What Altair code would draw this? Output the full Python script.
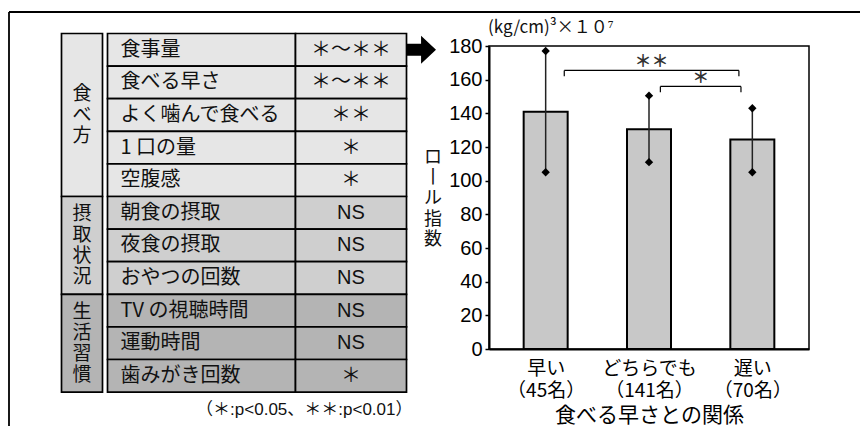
import json
import altair as alt
import pandas as pd

# ---------------- data ----------------
categories = ["早い", "どちらでも", "遅い"]
counts = [45, 141, 70]
means = [141, 130.5, 124.5]
upper = [177, 150.5, 143]
lower = [105, 111, 105]

bracket_labels = ["＊＊", "＊"]
bracket_from = [0.68, 1.61]
bracket_to = [2.37, 2.39]
bracket_level = [165.5, 156]
bracket_foot = [162, 152.5]

groups = ["食べ方", "摂取状況", "生活習慣"]
group_sizes = [5, 3, 3]
items = ["食事量", "食べる早さ", "よく噛んで食べる", "1 口の量", "空腹感",
         "朝食の摂取", "夜食の摂取", "おやつの回数",
         "TV の視聴時間", "運動時間", "歯みがき回数"]
significance = ["＊〜＊＊", "＊〜＊＊", "＊＊", "＊", "＊",
                "NS", "NS", "NS",
                "NS", "NS", "＊"]
footnote = "（＊:p<0.05、＊＊:p<0.01）"
unit_label = "(kg/cm)³×１０⁷"
y_title = "ロール指数"
x_title = "食べる早さとの関係"

# ---------------- layout / style ----------------
JP = "Noto Sans CJK JP"
LAT = "Liberation Sans, Noto Sans CJK JP"
group_fills = ["#e6e6e6", "#cfcfcf", "#b4b4b4"]
bar_fill = "#c8c8c8"

PLOT_W, PLOT_H = 320, 303
OX, OY = 489, 46          # plot origin on the page
PAGE_W, PAGE_H = 868, 434
ROW_TOP, ROW_H = 33.5, 32.6
GX0, GX1 = 61.5, 102.5
IX0, IX1, IX2 = 107.5, 295.5, 406.5
G_LH = 21.0
Y_LH = 20.7

PX = alt.Scale(domain=[0, PAGE_W], range=[-OX, PAGE_W - OX], nice=False, zero=False)
PY = alt.Scale(domain=[0, PAGE_H], range=[-OY, PAGE_H - OY], nice=False, zero=False)

# ---------------- bar chart ----------------
bars_df = pd.DataFrame({
    "pos": [i + 0.5 for i in range(len(categories))],
    "mean": means, "upper": upper, "lower": lower,
})
ends_df = pd.concat([
    pd.DataFrame({"pos": bars_df["pos"], "v": upper}),
    pd.DataFrame({"pos": bars_df["pos"], "v": lower}),
])

label_arr = [[c, f"（{n}名）"] for c, n in zip(categories, counts)]
label_expr = json.dumps(label_arr, ensure_ascii=False) + "[floor(datum.value)]"

xs = alt.Scale(domain=[0, len(categories)], nice=False, zero=False)
ys = alt.Scale(domain=[0, 180], nice=False, zero=True)

xaxis = alt.Axis(values=[i + 0.5 for i in range(len(categories))], labelExpr=label_expr,
                 ticks=False, grid=False, domainColor="black", domainWidth=2,
                 labelFont=JP, labelFontSize=19, labelColor="black", labelLineHeight=22,
                 labelBaseline="top", labelPadding=10, labelAngle=0, labelFlush=False,
                 labelOverlap=False,
                 title=x_title, titleFont=JP, titleFontSize=21, titleFontWeight="normal",
                 titleColor="black", titleX=PLOT_W / 2, titleY=66, titleAlign="center",
                 titleBaseline="middle")
yaxis = alt.Axis(values=list(range(0, 181, 20)), grid=False, tickSize=4, tickColor="black",
                 tickWidth=1.5, domainColor="black", domainWidth=2,
                 labelFont=LAT, labelFontSize=20, labelColor="black", labelPadding=3,
                 title=None)

bars = alt.Chart(bars_df).mark_bar(size=44, fill=bar_fill, stroke="black", strokeWidth=2).encode(
    x=alt.X("pos:Q", scale=xs, axis=xaxis),
    y=alt.Y("mean:Q", scale=ys, axis=yaxis),
)
err = alt.Chart(bars_df).mark_rule(color="#222222", strokeWidth=1.5).encode(
    x=alt.X("pos:Q", scale=xs, axis=xaxis),
    y=alt.Y("lower:Q", scale=ys, axis=yaxis),
    y2="upper:Q",
)
ends = alt.Chart(ends_df).mark_point(shape="diamond", filled=True, size=70, color="black", opacity=1).encode(
    x=alt.X("pos:Q", scale=xs, axis=xaxis),
    y=alt.Y("v:Q", scale=ys, axis=yaxis),
)

seg_rows = []
for a, b, lv, ft in zip(bracket_from, bracket_to, bracket_level, bracket_foot):
    seg_rows.append({"x": a, "x2": b, "y": lv, "y2": lv})
    seg_rows.append({"x": a, "x2": a, "y": ft, "y2": lv})
    seg_rows.append({"x": b, "x2": b, "y": ft, "y2": lv})
seg_df = pd.DataFrame(seg_rows)
brackets = alt.Chart(seg_df).mark_rule(color="black", strokeWidth=1.2).encode(
    x=alt.X("x:Q", scale=xs, axis=xaxis), x2="x2:Q",
    y=alt.Y("y:Q", scale=ys, axis=yaxis), y2="y2:Q",
)
star_df = pd.DataFrame({
    "x": [(a + b) / 2 for a, b in zip(bracket_from, bracket_to)],
    "y": bracket_level, "t": bracket_labels,
})
stars = alt.Chart(star_df).mark_text(font=JP, fontSize=17, fontWeight="bold", color="#333333",
                                     baseline="middle", dy=-8).encode(
    x=alt.X("x:Q", scale=xs, axis=xaxis),
    y=alt.Y("y:Q", scale=ys, axis=yaxis),
    text="t:N",
)

bar_layer = alt.layer(bars, err, ends, brackets, stars)

# ---------------- table and page decorations ----------------
row_group = []
for g, n in zip(range(len(groups)), group_sizes):
    row_group += [g] * n

cells = []
for i, gi in enumerate(row_group):
    y0 = ROW_TOP + i * ROW_H
    cells.append({"x": IX0, "x2": IX1, "y": y0, "y2": y0 + ROW_H, "fill": group_fills[gi]})
    cells.append({"x": IX1, "x2": IX2, "y": y0, "y2": y0 + ROW_H, "fill": group_fills[gi]})
start = 0
gtext = []
for gi, n in enumerate(group_sizes):
    y0 = ROW_TOP + start * ROW_H
    y1 = ROW_TOP + (start + n) * ROW_H
    cells.append({"x": GX0, "x2": GX1, "y": y0, "y2": y1, "fill": group_fills[gi]})
    nch = len(groups[gi])
    gtext.append({"x": (GX0 + GX1) / 2, "y": (y0 + y1) / 2 - (nch - 1) / 2 * G_LH,
                  "t": "\n".join(groups[gi])})
    start += n
cells_df = pd.DataFrame(cells)

item_df = pd.DataFrame({
    "x": [IX0 + 13] * len(items),
    "y": [ROW_TOP + (i + 0.5) * ROW_H for i in range(len(items))],
    "t": items,
})
sig_df = pd.DataFrame({
    "x": [(IX1 + IX2) / 2] * len(items),
    "y": [ROW_TOP + (i + 0.5) * ROW_H for i in range(len(items))],
    "t": significance,
})
gtext_df = pd.DataFrame(gtext)


def P(chart, x2=False, y2=False):
    enc = dict(x=alt.X("x:Q", scale=PX, axis=None), y=alt.Y("y:Q", scale=PY, axis=None))
    if x2:
        enc["x2"] = "x2:Q"
    if y2:
        enc["y2"] = "y2:Q"
    return chart.encode(**enc)


cell_marks = P(alt.Chart(cells_df).mark_rect(stroke="black", strokeWidth=1.7), True, True).encode(
    color=alt.Color("fill:N", scale=None))
item_marks = P(alt.Chart(item_df).mark_text(font=JP, fontSize=20, align="left", baseline="middle", color="#111111")).encode(text="t:N")
sig_marks = P(alt.Chart(sig_df).mark_text(font=LAT, fontSize=20, align="center", baseline="middle", color="#111111")).encode(text="t:N")
group_marks = P(alt.Chart(gtext_df).mark_text(font=JP, fontSize=19, align="center", baseline="middle",
                                             lineBreak="\n", lineHeight=G_LH, color="#111111")).encode(text="t:N")

arrow_df = pd.DataFrame({"x": [IX2 + 15], "y": [ROW_TOP + 0.5 * ROW_H]})
arrow = P(alt.Chart(arrow_df).mark_point(
    shape="M-1,-0.41L-0.03,-0.41L-0.03,-0.97L1,0L-0.03,0.97L-0.03,0.41L-1,0.41Z",
    size=841, filled=True, color="black", opacity=1, strokeWidth=0))

frame_df = pd.DataFrame({"x": [9, 9], "x2": [860, 9], "y": [12, 12], "y2": [12, 426]})
frame = P(alt.Chart(frame_df).mark_rule(color="black", strokeWidth=1.8), True, True)

foot_df = pd.DataFrame({"x": [IX2 + 6], "y": [410], "t": [footnote]})
foot = P(alt.Chart(foot_df).mark_text(font=LAT, fontSize=17, align="right", baseline="middle", color="#111111")).encode(text="t:N")

unit_df = pd.DataFrame({"x": [OX - 1], "y": [28], "t": [unit_label]})
unit = P(alt.Chart(unit_df).mark_text(font=JP, fontSize=17, align="left", baseline="middle", color="#111111")).encode(text="t:N")

vchars = ["丨" if c == "ー" else c for c in y_title]
ytitle_df = pd.DataFrame({"x": [433], "y": [199 - (len(vchars) - 1) / 2 * Y_LH], "t": ["\n".join(vchars)]})
ytitle = P(alt.Chart(ytitle_df).mark_text(font=JP, fontSize=18, align="center", baseline="middle",
                                          lineBreak="\n", lineHeight=Y_LH, color="#111111")).encode(text="t:N")

page_layer = alt.layer(cell_marks, item_marks, sig_marks, group_marks, arrow, frame, foot, unit, ytitle)

chart = alt.layer(bar_layer, page_layer).resolve_scale(x="independent", y="independent").properties(
    width=PLOT_W, height=PLOT_H,
    padding={"left": OX - 8, "top": OY - 8, "right": 860 - OX - PLOT_W, "bottom": 426 - OY - PLOT_H},
    autosize=alt.AutoSizeParams(type="none"),
    background="white",
).configure_view(stroke="black", strokeWidth=1.5)

chart.save("out.html", embed_options={"renderer": "svg", "actions": False})
